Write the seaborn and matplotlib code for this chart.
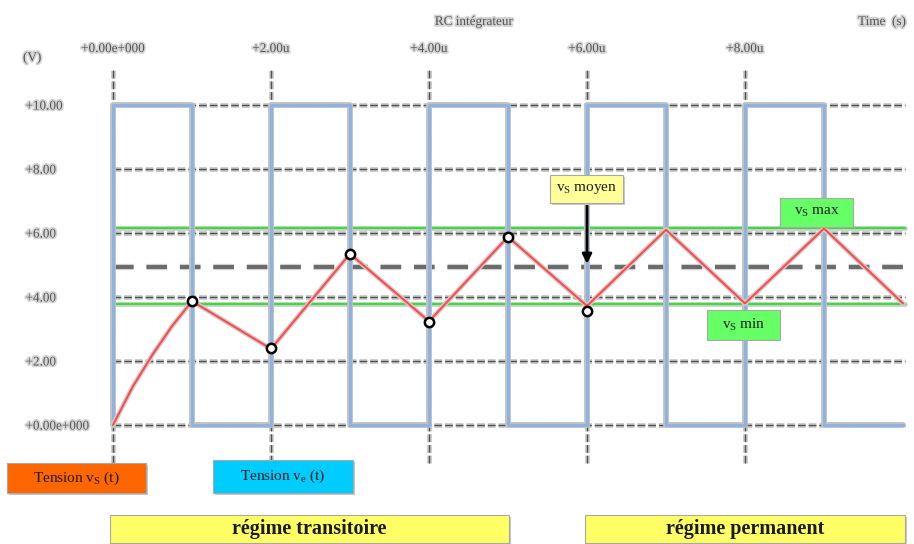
import matplotlib
matplotlib.use("Agg")
import matplotlib.pyplot as plt
import matplotlib.patheffects as pe
from matplotlib.patches import Rectangle
import pandas as pd
import seaborn as sns

# Données (temps en µs, tensions en V)
t_ve = [0, 0, 1, 2, 3, 4, 5, 6, 7, 8, 9, 10]
ve = [0, 10, 0, 10, 0, 10, 0, 10, 0, 10, 0, 0]

t_vs = [0, 0.25, 0.5, 0.75, 1, 2, 3, 4, 5, 6, 7, 8, 9, 10]
vs = [0, 1.2, 2.2, 3.1, 3.87, 2.38, 5.35, 3.24, 5.88, 3.72, 6.1, 3.8, 6.14, 3.8]

t_pts = [1, 2, 3, 4, 5, 6]
vs_pts = [3.87, 2.40, 5.33, 3.22, 5.87, 3.56]

vs_max = 6.15
vs_min = 3.77
vs_moy = 4.95

x_ticks = [0, 2, 4, 6, 8]
x_labels = ["+0.00e+000", "+2.00u", "+4.00u", "+6.00u", "+8.00u"]
y_ticks = [0, 2, 4, 6, 8, 10]
y_labels = ["+0.00e+000", "+2.00", "+4.00", "+6.00", "+8.00", "+10.00"]

sns.set_style("white")
plt.rcParams["font.family"] = ["Liberation Serif", "DejaVu Serif"]
plt.rcParams["mathtext.fontset"] = "custom"
plt.rcParams["mathtext.rm"] = "Liberation Serif"
plt.rcParams["mathtext.it"] = "Liberation Serif:italic"

W, H = 914, 544
fig = plt.figure(figsize=(W / 100, H / 100), dpi=100)
ax = fig.add_axes([113 / W, 1 - 425 / H, 790 / W, 320 / H])
ax.set_xlim(0, 10)
ax.set_ylim(0, 10)
for s in ax.spines.values():
    s.set_visible(False)

halo = [pe.Stroke(linewidth=4.2, foreground="#c2c2c2"), pe.Normal()]
txt_halo = [pe.withStroke(linewidth=2.5, foreground="#d4d4d4")]

# grille en pointillés
for y in y_ticks:
    ax.plot([0, 10.03], [y, y], color="#cacaca", lw=3.5, ls=(0, (1.6, 0.6)), clip_on=False, zorder=1)
    ax.plot([0, 10.03], [y, y], color="#505050", lw=1.0, ls=(0, (5.6, 2.1)), clip_on=False, zorder=1.1)
for x in x_ticks:
    ax.plot([x, x], [-1.2, 11.15], color="#cacaca", lw=3.5, ls=(0, (1.6, 0.6)), clip_on=False, zorder=1)
    ax.plot([x, x], [-1.2, 11.15], color="#505050", lw=1.0, ls=(0, (5.6, 2.1)), clip_on=False, zorder=1.1)

# niveaux moyens / extrêmes
green_halo = [pe.Stroke(linewidth=3.5, foreground="#d0d0d0"), pe.Normal()]
ax.plot([0.03, 10.02], [vs_max, vs_max], color="#3ddc3d", lw=1.6, path_effects=green_halo, clip_on=False, zorder=2)
ax.plot([0.03, 10.02], [vs_min, vs_min], color="#3ddc3d", lw=1.6, path_effects=green_halo, clip_on=False, zorder=2)
ax.plot([0, 10.12], [vs_moy, vs_moy], color="#6a6a6a", lw=2.8, ls=(0, (5.3, 3.3)),
        path_effects=[pe.Stroke(linewidth=4.5, foreground="#d0d0d0"), pe.Normal()], clip_on=False, zorder=2)

# tension d'entrée (créneau)
df_ve = pd.DataFrame({"t": t_ve, "v": ve})
sns.lineplot(data=df_ve, x="t", y="v", ax=ax, estimator=None, sort=False,
             drawstyle="steps-post", color="#8db3e2", lw=2.2, path_effects=halo,
             clip_on=False, zorder=3)

# tension de sortie
df_vs = pd.DataFrame({"t": t_vs, "v": vs})
sns.lineplot(data=df_vs, x="t", y="v", ax=ax, estimator=None, sort=False,
             color="#ff4a4a", lw=1.5, path_effects=[pe.Stroke(linewidth=3.5, foreground="#cfcfcf"), pe.Normal()],
             clip_on=False, zorder=4)
sns.scatterplot(x=t_pts, y=vs_pts, ax=ax, s=45, color="white", edgecolor="black",
                linewidth=1.8, zorder=5, clip_on=False)

ax.set_xlabel("")
ax.set_ylabel("")
ax.xaxis.tick_top()
ax.set_xticks(x_ticks)
ax.set_xticklabels(x_labels)
ax.set_yticks(y_ticks)
ax.set_yticklabels(y_labels, ha="left")
ax.tick_params(axis="x", length=0, pad=36, labelsize=9.5, labelcolor="#555555")
ax.tick_params(axis="y", length=0, pad=63, labelsize=9.5, labelcolor="#555555")
for lab in ax.get_xticklabels() + ax.get_yticklabels():
    lab.set_path_effects(txt_halo)

def px(x, y):
    return x / W, 1 - y / H

fig.text(*px(23, 58), "(V)", fontsize=9.5, color="#555555", ha="left", va="center", path_effects=txt_halo)
fig.text(*px(474, 22), "RC intégrateur", fontsize=9.5, color="#555555", ha="center", va="center", path_effects=txt_halo)
fig.text(*px(858, 22), "Time  (s)", fontsize=9.5, color="#555555", ha="left", va="center", path_effects=txt_halo)

def box(x0, y0, x1, y1, color, text, size=11, weight="normal", shadow=True):
    if shadow:
        fig.patches.append(Rectangle(px(x0 + 2, y1 + 2), (x1 - x0) / W, (y1 - y0) / H,
                                     transform=fig.transFigure, facecolor="#c8c8c8",
                                     edgecolor="none", zorder=9))
    fig.patches.append(Rectangle(px(x0, y1), (x1 - x0) / W, (y1 - y0) / H,
                                 transform=fig.transFigure, facecolor=color,
                                 edgecolor="#a8a8a8", lw=0.8, zorder=10))
    fig.text(*px((x0 + x1) / 2, (y0 + y1) / 2), text, fontsize=size, weight=weight,
             color="#1a1a1a", ha="center", va="center", zorder=11)

box(7, 463, 146, 493, "#ff6600", r"Tension v$_\mathrm{S}$ (t)")
box(213, 460, 353, 493, "#00ccff", r"Tension v$_\mathrm{e}$ (t)")
box(110, 515, 509, 543, "#ffff66", "régime transitoire", size=14.5, weight="bold")
box(585, 515, 905, 543, "#ffff66", "régime permanent", size=14.5, weight="bold")
box(550, 175, 623, 203, "#ffff99", r"v$_\mathrm{S}$ moyen")
box(780, 198, 853, 227, "#66ff66", r"v$_\mathrm{S}$ max", shadow=False)
box(707, 310, 780, 340, "#66ff66", r"v$_\mathrm{S}$ min", shadow=False)

# flèche vers la valeur moyenne
ax.annotate("", xy=(6.0, vs_moy), xytext=(6.0, 6.95),
            arrowprops=dict(arrowstyle="-|>", color="black", lw=2, mutation_scale=14),
            zorder=8)

fig.savefig("out.png", dpi=100)
